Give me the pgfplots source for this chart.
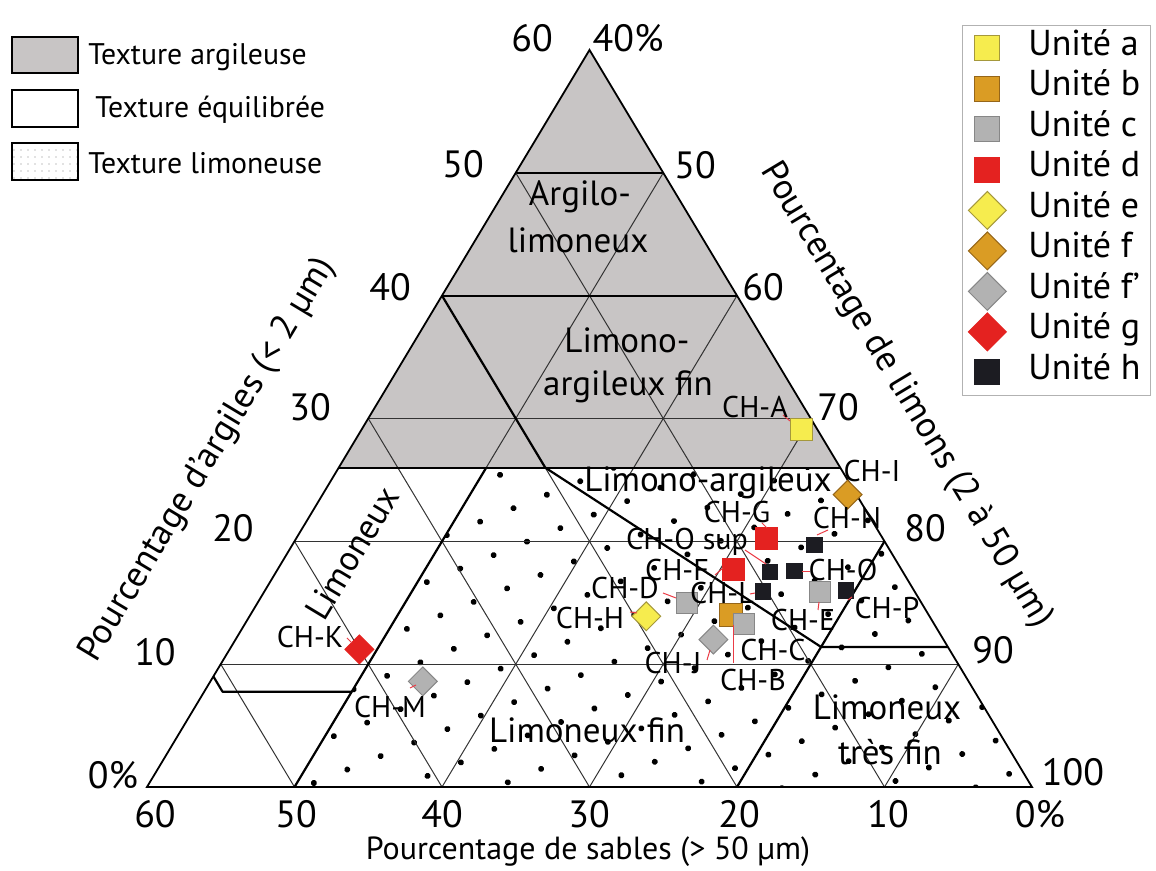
\documentclass[border=0pt]{standalone}
\usepackage{pgfplots}
\pgfplotsset{compat=1.18}
\usepackage{pgfplotstable}
\usepackage{fontspec}
\setmainfont{PT Sans}
\usetikzlibrary{patterns.meta}

\definecolor{argile}{RGB}{200,197,197}
\definecolor{yelF}{RGB}{246,236,78}
\definecolor{yelD}{RGB}{165,152,60}
\definecolor{golF}{RGB}{218,156,36}
\definecolor{golD}{RGB}{150,102,25}
\definecolor{gryF}{RGB}{178,178,178}
\definecolor{gryD}{RGB}{135,135,135}
\definecolor{redF}{RGB}{228,34,32}
\definecolor{blkF}{RGB}{28,28,34}
\definecolor{leader}{RGB}{235,60,70}

\newcommand\ftick{\fontsize{19}{22}\selectfont}
\newcommand\ftitle{\fontsize{16}{19}\selectfont}
\newcommand\frtitle{\fontsize{18}{21}\selectfont}
\newcommand\fregion{\fontsize{17.5}{20}\selectfont}
\newcommand\fch{\fontsize{15}{17}\selectfont}
\newcommand\fleg{\fontsize{14.9}{17}\selectfont}

% s = sables (%), c = argiles (%); limons = 100 - s - c
\pgfplotstableread{
s c
1.1 29.1
}\unitA
\pgfplotstableread{
s c
13.4 14.0
}\unitB
\pgfplotstableread{
s c
15.9 15.0
6.4 15.9
12.9 13.3
}\unitC
\pgfplotstableread{
s c
7.9 20.2
11.4 17.7
}\unitD
\pgfplotstableread{
s c
19.2 13.9
}\unitE
\pgfplotstableread{
s c
0.6 23.8
}\unitF
\pgfplotstableread{
s c
15.6 12.0
37.0 8.6
}\unitFp
\pgfplotstableread{
s c
40.0 11.2
}\unitG
\pgfplotstableread{
s c
4.9 19.7
9.0 17.5
7.3 17.6
10.3 15.9
4.6 16.0
}\unitH

\pgfplotsset{
  gridl/.style={black!80, line width=0.5pt, forget plot, mark=none},
  thickl/.style={black, line width=1.1pt, forget plot, mark=none, line join=round},
}

\begin{document}
\begin{tikzpicture}
\useasboundingbox (-73.5pt,-42pt) rectangle (504.5pt,393.5pt);
\begin{axis}[
  scale only axis, width=442.5pt, height=368.5pt,
  xmin=0, xmax=60, ymin=0, ymax=60,
  axis lines=none, ticks=none, clip=false,
  legend cell align=left,
  legend style={at={(0.9209,1.0339)}, anchor=north west, draw=gray!60, fill=white,
    font=\fontsize{18}{20}\selectfont, row sep=1.25pt,
    nodes={text height=11pt, text depth=4pt, inner sep=2pt},
    /tikz/every odd column/.append style={column sep=9pt}},
]
% regions
\addplot[fill=argile, draw=none, forget plot] coordinates {(13,26) (47,26) (30,60)} -- cycle;
\addplot[draw=none, pattern={Dots[distance=18pt, radius=1.5pt, angle=22]}, forget plot]
  coordinates {(10,0) (60,0) (47,26) (23,26)} -- cycle;
% grid: argiles constant
\addplot[gridl] coordinates {(5,10) (55,10)};
\addplot[gridl] coordinates {(10,20) (50,20)};
\addplot[gridl] coordinates {(15,30) (45,30)};
\addplot[black, line width=0.7pt, forget plot] coordinates {(25,50) (35,50)};
% grid: sables constant
\addplot[gridl] coordinates {(50,0) (25,50)};
\addplot[gridl] coordinates {(40,0) (20,40)};
\addplot[gridl] coordinates {(30,0) (15,30)};
\addplot[gridl] coordinates {(20,0) (10,20)};
\addplot[gridl] coordinates {(10,0) (5,10)};
% grid: limons constant
\addplot[gridl] coordinates {(10,0) (35,50)};
\addplot[gridl] coordinates {(20,0) (40,40)};
\addplot[gridl] coordinates {(30,0) (45,30)};
\addplot[gridl] coordinates {(40,0) (50,20)};
\addplot[gridl] coordinates {(50,0) (55,10)};
% texture boundaries
\addplot[thickl] coordinates {(13,26) (47,26)};
\addplot[thickl] coordinates {(20,40) (40,40)};
\addplot[thickl] coordinates {(20,40) (27,26) (45.7,11.4) (54.3,11.4)};
\addplot[thickl] coordinates {(40,0) (50,20)};
\addplot[thickl] coordinates {(10,0) (23,26)};
\addplot[thickl] coordinates {(4.5,9) (5.12,7.76) (13.88,7.76)};
\addplot[black, line width=0.9pt, forget plot, line join=miter] coordinates {(0,0) (60,0) (30,60)} -- cycle;
\addplot[black, line width=1.3pt, forget plot] coordinates {(0,0) (60,0)};

% samples
\addplot[only marks, mark=square*, mark size=5.5pt, mark options={fill=yelF, draw=yelD, line width=0.5pt}, forget plot]
  table[x expr=60-\thisrow{s}-0.5*\thisrow{c}, y=c]{\unitA};
\addplot[only marks, mark=square*, mark size=5.6pt, mark options={fill=golF, draw=golD, line width=0.5pt}, forget plot]
  table[x expr=60-\thisrow{s}-0.5*\thisrow{c}, y=c]{\unitB};
\addplot[only marks, mark=square*, mark size=5.3pt, mark options={fill=gryF, draw=gryD, line width=0.5pt}, forget plot]
  table[x expr=60-\thisrow{s}-0.5*\thisrow{c}, y=c]{\unitC};
\addplot[only marks, mark=square*, mark size=5.5pt, mark options={fill=redF, draw=redF, line width=0.5pt}, forget plot]
  table[x expr=60-\thisrow{s}-0.5*\thisrow{c}, y=c]{\unitD};
\addplot[only marks, mark=square*, mark size=5.1pt, mark options={rotate=45, fill=yelF, draw=yelD, line width=0.5pt}, forget plot]
  table[x expr=60-\thisrow{s}-0.5*\thisrow{c}, y=c]{\unitE};
\addplot[only marks, mark=square*, mark size=5.1pt, mark options={rotate=45, fill=golF, draw=golD, line width=0.5pt}, forget plot]
  table[x expr=60-\thisrow{s}-0.5*\thisrow{c}, y=c]{\unitF};
\addplot[only marks, mark=square*, mark size=5.1pt, mark options={rotate=45, fill=gryF, draw=gryD, line width=0.5pt}, forget plot]
  table[x expr=60-\thisrow{s}-0.5*\thisrow{c}, y=c]{\unitFp};
\addplot[only marks, mark=square*, mark size=5.1pt, mark options={rotate=45, fill=redF, draw=redF, line width=0.5pt}, forget plot]
  table[x expr=60-\thisrow{s}-0.5*\thisrow{c}, y=c]{\unitG};
\addplot[only marks, mark=square*, mark size=3.9pt, mark options={fill=blkF, draw=blkF, line width=0.5pt}, forget plot]
  table[x expr=60-\thisrow{s}-0.5*\thisrow{c}, y=c]{\unitH};

% legend
\addlegendimage{only marks, mark=square*, mark size=6.25pt, mark options={fill=yelF, draw=yelD, line width=0.5pt}}
\addlegendentry{Unité a}
\addlegendimage{only marks, mark=square*, mark size=6.25pt, mark options={fill=golF, draw=golD, line width=0.5pt}}
\addlegendentry{Unité b}
\addlegendimage{only marks, mark=square*, mark size=6.25pt, mark options={fill=gryF, draw=gryD, line width=0.5pt}}
\addlegendentry{Unité c}
\addlegendimage{only marks, mark=square*, mark size=6.25pt, mark options={fill=redF, draw=redF, line width=0.5pt}}
\addlegendentry{Unité d}
\addlegendimage{only marks, mark=square*, mark size=6.7pt, mark options={rotate=45, fill=yelF, draw=yelD, line width=0.5pt}}
\addlegendentry{Unité e}
\addlegendimage{only marks, mark=square*, mark size=6.7pt, mark options={rotate=45, fill=golF, draw=golD, line width=0.5pt}}
\addlegendentry{Unité f}
\addlegendimage{only marks, mark=square*, mark size=6.7pt, mark options={rotate=45, fill=gryF, draw=gryD, line width=0.5pt}}
\addlegendentry{Unité f’}
\addlegendimage{only marks, mark=square*, mark size=6.7pt, mark options={rotate=45, fill=redF, draw=redF, line width=0.5pt}}
\addlegendentry{Unité g}
\addlegendimage{only marks, mark=square*, mark size=6.25pt, mark options={fill=blkF, draw=blkF, line width=0.5pt}}
\addlegendentry{Unité h}
\end{axis}

% annotations in picture pixel coordinates
\begin{scope}[x=0.5pt, y=-0.5pt, shift={(-73.5pt,393.5pt)}, every node/.style={inner sep=0pt}]
% texture legend
\draw[line width=0.8pt, fill=argile] (12,37) rectangle (78,73);
\draw[line width=0.8pt] (12,90) rectangle (78,127);
\draw[line width=0.8pt, pattern={Dots[distance=3.5pt, radius=0.35pt]}, pattern color=gray] (12,143) rectangle (78,180);
\node[font=\fleg, anchor=west] at (88,57) {Texture argileuse};
\node[font=\fleg, anchor=west] at (95,110) {Texture équilibrée};
\node[font=\fleg, anchor=west] at (88,163) {Texture limoneuse};
% ticks: argiles
\node[font=\ftick] at (113,775) {0\%};
\node[font=\ftick] at (155,652) {10};
\node[font=\ftick] at (233,528) {20};
\node[font=\ftick] at (310,407) {30};
\node[font=\ftick] at (390,287) {40};
\node[font=\ftick] at (463,164) {50};
\node[font=\ftick] at (532,38) {60};
% ticks: limons
\node[font=\ftick] at (628,38) {40\%};
\node[font=\ftick] at (695,165) {50};
\node[font=\ftick] at (763,287) {60};
\node[font=\ftick] at (838,407) {70};
\node[font=\ftick] at (925,528) {80};
\node[font=\ftick] at (993,650) {90};
\node[font=\ftick] at (1073,772) {100};
% ticks: sables
\node[font=\ftick] at (155,814) {60};
\node[font=\ftick] at (296,814) {50};
\node[font=\ftick] at (442,814) {40};
\node[font=\ftick] at (589,814) {30};
\node[font=\ftick] at (739,814) {20};
\node[font=\ftick] at (888,814) {10};
\node[font=\ftick] at (1040,814) {0\%};
% axis titles
\node[font=\ftitle] at (588,852) {Pourcentage de sables (> 50 µm)};
\node[font=\frtitle, rotate=59] at (208,460) {Pourcentage d’argiles (< 2 µm)};
\node[font=\frtitle, rotate=-59] at (906,395) {Pourcentage de limons (2 à 50 µm)};
% region names
\node[font=\fregion] at (580,197) {Argilo-};
\node[font=\fregion] at (578,240) {limoneux};
\node[font=\fregion] at (627,340) {Limono-};
\node[font=\fregion] at (628,387) {argileux fin};
\node[font=\fregion] at (708,483) {Limono-argileux};
\node[font=\fregion, rotate=59] at (352,553) {Limoneux};
\node[font=\fregion] at (587,730) {Limoneux fin};
\node[font=\fregion] at (887,707) {Limoneux};
\node[font=\fregion] at (890,752) {très fin};
% leader lines
\begin{scope}[draw=leader, line width=0.5pt]
\draw (783,415) -- (790,421);
\draw (817,535) -- (828,530);
\draw (762,523) -- (767,528);
\draw (745,550) -- (766,564);
\draw (715,575) -- (723,568);
\draw (802,572) -- (810,572);
\draw (750,594) -- (755,593);
\draw (663,593) -- (676,598);
\draw (630,612) -- (637,613);
\draw (819,602) -- (818,610);
\draw (852,597) -- (848,600);
\draw (710,650) -- (707,660);
\draw (733,625) -- (733,663);
\draw (347,638) -- (352,643);
\draw (410,688) -- (416,685);
\end{scope}
% sample names
\node[font=\fch] at (755,407) {CH-A};
\node[font=\fch] at (872,471) {CH-I};
\node[font=\fch] at (847,518) {CH-N};
\node[font=\fch] at (737,512) {CH-G};
\node[font=\fch] at (687,542) {CH-O sup};
\node[font=\fch] at (677,570) {CH-F};
\node[font=\fch] at (843,570) {CH-O};
\node[font=\fch] at (722,593) {CH-L};
\node[font=\fch] at (625,588) {CH-D};
\node[font=\fch] at (590,618) {CH-H};
\node[font=\fch] at (803,620) {CH-E};
\node[font=\fch] at (887,608) {CH-P};
\node[font=\fch] at (773,650) {CH-C};
\node[font=\fch] at (673,663) {CH-J};
\node[font=\fch] at (753,680) {CH-B};
\node[font=\fch] at (310,637) {CH-K};
\node[font=\fch] at (390,707) {CH-M};
\end{scope}
\end{tikzpicture}
\end{document}
